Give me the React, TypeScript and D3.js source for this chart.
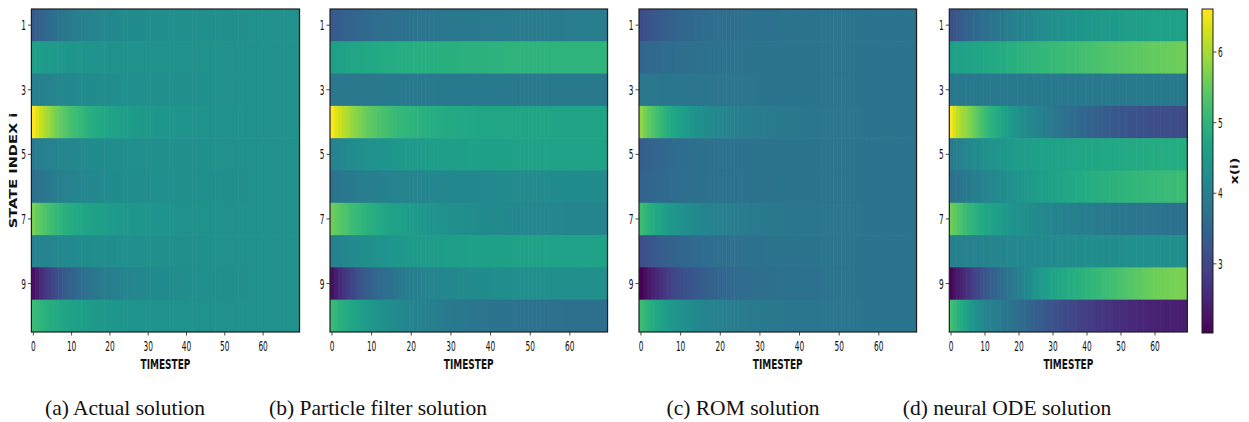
import React from "react";
import * as d3 from "d3";

// ---------------- data ----------------
const stateIndex = [1, 2, 3, 4, 5, 6, 7, 8, 9, 10];
const yTicks = [1, 3, 5, 7, 9];
const xTicks = [0, 10, 20, 30, 40, 50, 60];
const cbTicks = [3, 4, 5, 6];
const colorDomain = [2.02, 6.61];
const captions = [
  "(a) Actual solution",
  "(b) Particle filter solution",
  "(c) ROM solution",
  "(d) neural ODE solution",
];

// x(i) for state index 1..10 (rows), timestep 0..69 (columns)
const actual = [
  [3.30,3.39,3.47,3.54,3.61,3.67,3.73,3.78,3.83,3.87,3.91,3.94,3.97,4.00,4.03,4.05,4.09,4.11,4.13,4.14,4.16,4.17,4.18,4.20,4.21,4.22,4.23,4.23,4.24,4.25,4.25,4.26,4.27,4.27,4.27,4.28,4.28,4.29,4.29,4.29,4.29,4.30,4.30,4.30,4.30,4.30,4.31,4.31,4.31,4.31,4.31,4.31,4.31,4.31,4.31,4.31,4.32,4.32,4.32,4.32,4.32,4.32,4.32,4.32,4.32,4.32,4.32,4.32,4.32,4.32],
  [4.60,4.57,4.55,4.53,4.52,4.50,4.48,4.47,4.45,4.44,4.43,4.42,4.42,4.41,4.40,4.39,4.38,4.38,4.37,4.37,4.36,4.36,4.36,4.35,4.35,4.35,4.35,4.35,4.34,4.34,4.34,4.34,4.33,4.33,4.33,4.33,4.33,4.33,4.33,4.33,4.33,4.32,4.32,4.32,4.32,4.32,4.32,4.32,4.32,4.32,4.32,4.32,4.32,4.32,4.32,4.32,4.32,4.32,4.32,4.32,4.32,4.32,4.32,4.32,4.32,4.32,4.32,4.32,4.32,4.32],
  [3.95,3.98,4.01,4.04,4.06,4.08,4.11,4.12,4.14,4.16,4.17,4.18,4.19,4.21,4.22,4.22,4.23,4.24,4.25,4.25,4.26,4.26,4.27,4.28,4.28,4.28,4.29,4.29,4.29,4.29,4.29,4.30,4.30,4.30,4.30,4.31,4.31,4.31,4.31,4.31,4.31,4.31,4.31,4.31,4.31,4.31,4.32,4.32,4.32,4.32,4.32,4.32,4.32,4.32,4.32,4.32,4.32,4.32,4.32,4.32,4.32,4.32,4.32,4.32,4.32,4.32,4.32,4.32,4.32,4.32],
  [6.60,6.39,6.21,6.05,5.92,5.78,5.64,5.53,5.41,5.32,5.23,5.16,5.10,5.03,4.96,4.91,4.84,4.80,4.75,4.73,4.68,4.66,4.64,4.59,4.57,4.55,4.53,4.53,4.50,4.48,4.48,4.46,4.43,4.43,4.43,4.41,4.41,4.39,4.39,4.39,4.39,4.37,4.37,4.37,4.37,4.37,4.34,4.34,4.34,4.34,4.34,4.34,4.34,4.34,4.34,4.34,4.32,4.32,4.32,4.32,4.32,4.32,4.32,4.32,4.32,4.32,4.32,4.32,4.32,4.32],
  [3.90,3.94,3.97,4.00,4.03,4.05,4.08,4.10,4.12,4.14,4.15,4.16,4.18,4.19,4.20,4.21,4.22,4.23,4.24,4.24,4.25,4.26,4.26,4.27,4.27,4.28,4.28,4.28,4.29,4.29,4.29,4.29,4.30,4.30,4.30,4.30,4.30,4.31,4.31,4.31,4.31,4.31,4.31,4.31,4.31,4.31,4.32,4.32,4.32,4.32,4.32,4.32,4.32,4.32,4.32,4.32,4.32,4.32,4.32,4.32,4.32,4.32,4.32,4.32,4.32,4.32,4.32,4.32,4.32,4.32],
  [3.67,3.73,3.78,3.83,3.86,3.90,3.94,3.98,4.01,4.03,4.06,4.08,4.10,4.12,4.14,4.15,4.17,4.18,4.20,4.20,4.22,4.22,4.23,4.24,4.25,4.25,4.26,4.26,4.27,4.27,4.27,4.28,4.29,4.29,4.29,4.29,4.29,4.30,4.30,4.30,4.30,4.31,4.31,4.31,4.31,4.31,4.31,4.31,4.31,4.31,4.31,4.31,4.31,4.31,4.31,4.31,4.32,4.32,4.32,4.32,4.32,4.32,4.32,4.32,4.32,4.32,4.32,4.32,4.32,4.32],
  [5.65,5.53,5.42,5.33,5.25,5.17,5.09,5.02,4.96,4.91,4.85,4.81,4.77,4.73,4.69,4.67,4.63,4.60,4.57,4.56,4.53,4.52,4.51,4.48,4.47,4.45,4.44,4.44,4.43,4.41,4.41,4.40,4.39,4.39,4.39,4.37,4.37,4.36,4.36,4.36,4.36,4.35,4.35,4.35,4.35,4.35,4.33,4.33,4.33,4.33,4.33,4.33,4.33,4.33,4.33,4.33,4.32,4.32,4.32,4.32,4.32,4.32,4.32,4.32,4.32,4.32,4.32,4.32,4.32,4.32],
  [4.02,4.05,4.07,4.09,4.11,4.13,4.15,4.16,4.18,4.19,4.20,4.21,4.22,4.23,4.24,4.24,4.25,4.26,4.26,4.27,4.27,4.27,4.28,4.28,4.29,4.29,4.29,4.29,4.30,4.30,4.30,4.30,4.30,4.30,4.30,4.31,4.31,4.31,4.31,4.31,4.31,4.31,4.31,4.31,4.31,4.31,4.32,4.32,4.32,4.32,4.32,4.32,4.32,4.32,4.32,4.32,4.32,4.32,4.32,4.32,4.32,4.32,4.32,4.32,4.32,4.32,4.32,4.32,4.32,4.32],
  [2.20,2.39,2.56,2.71,2.84,2.96,3.09,3.20,3.30,3.39,3.47,3.54,3.60,3.66,3.73,3.77,3.83,3.87,3.92,3.94,3.98,4.00,4.02,4.07,4.09,4.11,4.13,4.13,4.15,4.17,4.17,4.19,4.21,4.21,4.21,4.24,4.24,4.26,4.26,4.26,4.26,4.28,4.28,4.28,4.28,4.28,4.30,4.30,4.30,4.30,4.30,4.30,4.30,4.30,4.30,4.30,4.32,4.32,4.32,4.32,4.32,4.32,4.32,4.32,4.32,4.32,4.32,4.32,4.32,4.32],
  [5.15,5.08,5.01,4.95,4.90,4.85,4.80,4.76,4.72,4.69,4.65,4.63,4.60,4.58,4.55,4.54,4.51,4.49,4.48,4.47,4.45,4.44,4.44,4.42,4.41,4.40,4.39,4.39,4.39,4.38,4.38,4.37,4.36,4.36,4.36,4.35,4.35,4.34,4.34,4.34,4.34,4.34,4.34,4.34,4.34,4.34,4.33,4.33,4.33,4.33,4.33,4.33,4.33,4.33,4.33,4.33,4.32,4.32,4.32,4.32,4.32,4.32,4.32,4.32,4.32,4.32,4.32,4.32,4.32,4.32],
];

const particleFilter = [
  [3.30,3.34,3.38,3.41,3.44,3.48,3.50,3.53,3.55,3.58,3.60,3.62,3.64,3.66,3.68,3.70,3.71,3.72,3.74,3.75,3.76,3.77,3.79,3.79,3.81,3.81,3.82,3.83,3.84,3.85,3.85,3.86,3.86,3.87,3.87,3.88,3.88,3.88,3.89,3.89,3.90,3.90,3.90,3.90,3.91,3.91,3.91,3.92,3.92,3.92,3.92,3.92,3.92,3.92,3.93,3.93,3.93,3.93,3.93,3.94,3.94,3.94,3.94,3.94,3.94,3.94,3.94,3.94,3.94,3.94],
  [4.60,4.62,4.65,4.67,4.69,4.71,4.72,4.74,4.76,4.77,4.78,4.80,4.81,4.82,4.83,4.84,4.85,4.86,4.87,4.88,4.88,4.89,4.90,4.90,4.91,4.92,4.92,4.93,4.93,4.94,4.94,4.94,4.94,4.95,4.95,4.96,4.96,4.96,4.96,4.96,4.97,4.97,4.97,4.97,4.98,4.98,4.98,4.98,4.98,4.98,4.98,4.98,4.98,4.98,4.99,4.99,4.99,4.99,4.99,4.99,4.99,4.99,4.99,4.99,4.99,4.99,4.99,4.99,5.00,5.00],
  [3.84,3.84,3.85,3.85,3.85,3.85,3.86,3.86,3.86,3.86,3.86,3.86,3.86,3.87,3.87,3.87,3.87,3.87,3.87,3.87,3.87,3.87,3.87,3.87,3.87,3.87,3.87,3.87,3.87,3.87,3.87,3.87,3.87,3.87,3.87,3.87,3.87,3.87,3.87,3.87,3.87,3.87,3.87,3.87,3.87,3.87,3.87,3.87,3.87,3.87,3.87,3.87,3.87,3.87,3.87,3.87,3.87,3.87,3.87,3.87,3.87,3.87,3.87,3.87,3.87,3.87,3.87,3.87,3.87,3.87],
  [6.60,6.43,6.27,6.14,6.02,5.91,5.79,5.70,5.60,5.52,5.45,5.39,5.33,5.28,5.22,5.18,5.12,5.08,5.04,5.03,4.99,4.97,4.95,4.91,4.89,4.87,4.85,4.85,4.83,4.81,4.81,4.80,4.78,4.78,4.78,4.76,4.76,4.74,4.74,4.74,4.74,4.72,4.72,4.72,4.72,4.72,4.70,4.70,4.70,4.70,4.70,4.70,4.70,4.70,4.70,4.70,4.68,4.68,4.68,4.68,4.68,4.68,4.68,4.68,4.68,4.68,4.68,4.68,4.68,4.68],
  [4.05,4.09,4.13,4.16,4.19,4.22,4.25,4.27,4.30,4.32,4.34,4.36,4.38,4.40,4.42,4.43,4.45,4.46,4.48,4.49,4.50,4.51,4.52,4.53,4.54,4.55,4.55,4.57,4.57,4.58,4.59,4.59,4.59,4.60,4.60,4.61,4.61,4.62,4.62,4.62,4.63,4.63,4.64,4.64,4.64,4.64,4.64,4.65,4.65,4.65,4.65,4.65,4.65,4.65,4.66,4.66,4.66,4.66,4.66,4.67,4.67,4.67,4.67,4.67,4.67,4.67,4.67,4.67,4.67,4.67],
  [3.77,3.80,3.82,3.85,3.87,3.89,3.91,3.93,3.95,3.96,3.98,3.99,4.01,4.02,4.03,4.04,4.05,4.06,4.08,4.08,4.09,4.10,4.11,4.11,4.12,4.13,4.13,4.14,4.14,4.15,4.15,4.16,4.16,4.16,4.17,4.17,4.17,4.17,4.18,4.18,4.18,4.18,4.19,4.19,4.19,4.19,4.19,4.20,4.20,4.20,4.20,4.20,4.20,4.20,4.21,4.21,4.21,4.21,4.21,4.21,4.21,4.21,4.21,4.21,4.21,4.21,4.21,4.21,4.22,4.22],
  [5.60,5.51,5.42,5.34,5.27,5.19,5.13,5.07,5.01,4.95,4.90,4.84,4.79,4.75,4.72,4.67,4.64,4.61,4.57,4.54,4.52,4.49,4.46,4.44,4.41,4.40,4.38,4.35,4.34,4.32,4.31,4.29,4.29,4.28,4.26,4.25,4.25,4.23,4.22,4.22,4.20,4.20,4.19,4.19,4.17,4.17,4.17,4.16,4.16,4.16,4.14,4.14,4.14,4.14,4.13,4.13,4.13,4.13,4.13,4.11,4.11,4.11,4.11,4.11,4.11,4.11,4.11,4.11,4.10,4.10],
  [4.00,4.04,4.08,4.12,4.15,4.18,4.21,4.24,4.27,4.29,4.31,4.34,4.36,4.38,4.39,4.41,4.43,4.44,4.46,4.48,4.48,4.50,4.51,4.52,4.53,4.54,4.54,4.56,4.56,4.57,4.58,4.58,4.58,4.59,4.60,4.61,4.61,4.61,4.62,4.62,4.63,4.63,4.63,4.63,4.64,4.64,4.64,4.65,4.65,4.65,4.65,4.65,4.65,4.65,4.66,4.66,4.66,4.66,4.66,4.67,4.67,4.67,4.67,4.67,4.67,4.67,4.67,4.67,4.67,4.67],
  [2.20,2.39,2.56,2.70,2.83,2.96,3.08,3.19,3.29,3.38,3.46,3.52,3.59,3.65,3.71,3.75,3.82,3.86,3.90,3.92,3.96,3.98,4.01,4.05,4.07,4.09,4.11,4.11,4.13,4.15,4.15,4.17,4.19,4.19,4.19,4.22,4.22,4.24,4.24,4.24,4.24,4.26,4.26,4.26,4.26,4.26,4.28,4.28,4.28,4.28,4.28,4.28,4.28,4.28,4.28,4.28,4.30,4.30,4.30,4.30,4.30,4.30,4.30,4.30,4.30,4.30,4.30,4.30,4.30,4.30],
  [5.13,5.04,4.95,4.88,4.81,4.74,4.68,4.62,4.56,4.50,4.46,4.40,4.36,4.31,4.28,4.24,4.21,4.18,4.14,4.11,4.09,4.06,4.04,4.02,3.99,3.98,3.96,3.93,3.92,3.90,3.89,3.87,3.87,3.86,3.85,3.83,3.83,3.82,3.80,3.80,3.79,3.79,3.77,3.77,3.76,3.76,3.76,3.74,3.74,3.74,3.73,3.73,3.73,3.73,3.71,3.71,3.71,3.71,3.71,3.70,3.70,3.70,3.70,3.70,3.70,3.70,3.70,3.70,3.68,3.68],
];

const rom = [
  [3.08,3.14,3.20,3.25,3.29,3.34,3.38,3.41,3.45,3.48,3.51,3.53,3.55,3.57,3.59,3.61,3.63,3.64,3.66,3.66,3.68,3.68,3.69,3.70,3.71,3.72,3.73,3.73,3.73,3.74,3.74,3.75,3.75,3.75,3.75,3.76,3.76,3.77,3.77,3.77,3.77,3.78,3.78,3.78,3.78,3.78,3.78,3.78,3.78,3.78,3.78,3.78,3.78,3.78,3.78,3.78,3.79,3.79,3.79,3.79,3.79,3.79,3.79,3.79,3.79,3.79,3.79,3.79,3.79,3.79],
  [3.50,3.53,3.55,3.57,3.59,3.60,3.62,3.64,3.65,3.66,3.67,3.68,3.69,3.70,3.71,3.71,3.72,3.73,3.73,3.74,3.74,3.75,3.75,3.76,3.76,3.76,3.76,3.76,3.77,3.77,3.77,3.77,3.78,3.78,3.78,3.78,3.78,3.78,3.78,3.78,3.78,3.79,3.79,3.79,3.79,3.79,3.79,3.79,3.79,3.79,3.79,3.79,3.79,3.79,3.79,3.79,3.79,3.79,3.79,3.79,3.79,3.79,3.79,3.79,3.79,3.79,3.79,3.79,3.79,3.79],
  [3.86,3.85,3.85,3.84,3.84,3.83,3.83,3.83,3.82,3.82,3.82,3.82,3.81,3.81,3.81,3.81,3.81,3.80,3.80,3.80,3.80,3.80,3.80,3.80,3.80,3.80,3.80,3.80,3.80,3.80,3.79,3.79,3.79,3.79,3.79,3.79,3.79,3.79,3.79,3.79,3.79,3.79,3.79,3.79,3.79,3.79,3.79,3.79,3.79,3.79,3.79,3.79,3.79,3.79,3.79,3.79,3.79,3.79,3.79,3.79,3.79,3.79,3.79,3.79,3.79,3.79,3.79,3.79,3.79,3.79],
  [5.83,5.65,5.48,5.34,5.22,5.10,4.97,4.87,4.77,4.69,4.61,4.54,4.48,4.42,4.36,4.32,4.26,4.22,4.18,4.16,4.12,4.10,4.08,4.03,4.01,3.99,3.97,3.97,3.95,3.93,3.93,3.91,3.89,3.89,3.89,3.87,3.87,3.85,3.85,3.85,3.85,3.83,3.83,3.83,3.83,3.83,3.81,3.81,3.81,3.81,3.81,3.81,3.81,3.81,3.81,3.81,3.79,3.79,3.79,3.79,3.79,3.79,3.79,3.79,3.79,3.79,3.79,3.79,3.79,3.79],
  [3.40,3.44,3.47,3.49,3.52,3.54,3.56,3.58,3.60,3.62,3.63,3.65,3.66,3.67,3.68,3.69,3.70,3.71,3.72,3.72,3.73,3.73,3.74,3.74,3.75,3.75,3.75,3.75,3.76,3.76,3.76,3.77,3.77,3.77,3.77,3.77,3.77,3.78,3.78,3.78,3.78,3.78,3.78,3.78,3.78,3.78,3.79,3.79,3.79,3.79,3.79,3.79,3.79,3.79,3.79,3.79,3.79,3.79,3.79,3.79,3.79,3.79,3.79,3.79,3.79,3.79,3.79,3.79,3.79,3.79],
  [3.45,3.48,3.51,3.53,3.55,3.57,3.59,3.61,3.63,3.64,3.65,3.66,3.67,3.68,3.69,3.70,3.71,3.72,3.73,3.73,3.74,3.74,3.74,3.75,3.75,3.76,3.76,3.76,3.76,3.77,3.77,3.77,3.77,3.77,3.77,3.78,3.78,3.78,3.78,3.78,3.78,3.78,3.78,3.78,3.78,3.78,3.79,3.79,3.79,3.79,3.79,3.79,3.79,3.79,3.79,3.79,3.79,3.79,3.79,3.79,3.79,3.79,3.79,3.79,3.79,3.79,3.79,3.79,3.79,3.79],
  [5.18,5.05,4.94,4.85,4.76,4.68,4.60,4.53,4.46,4.40,4.35,4.30,4.26,4.22,4.18,4.15,4.11,4.08,4.05,4.04,4.01,4.00,3.98,3.96,3.94,3.93,3.92,3.92,3.90,3.89,3.89,3.87,3.86,3.86,3.86,3.85,3.85,3.83,3.83,3.83,3.83,3.82,3.82,3.82,3.82,3.82,3.80,3.80,3.80,3.80,3.80,3.80,3.80,3.80,3.80,3.80,3.79,3.79,3.79,3.79,3.79,3.79,3.79,3.79,3.79,3.79,3.79,3.79,3.79,3.79],
  [3.10,3.16,3.22,3.27,3.31,3.35,3.39,3.42,3.46,3.49,3.51,3.53,3.56,3.58,3.60,3.61,3.63,3.65,3.66,3.67,3.68,3.69,3.69,3.71,3.71,3.72,3.73,3.73,3.73,3.74,3.74,3.75,3.76,3.76,3.76,3.76,3.76,3.77,3.77,3.77,3.77,3.78,3.78,3.78,3.78,3.78,3.78,3.78,3.78,3.78,3.78,3.78,3.78,3.78,3.78,3.78,3.79,3.79,3.79,3.79,3.79,3.79,3.79,3.79,3.79,3.79,3.79,3.79,3.79,3.79],
  [2.02,2.18,2.32,2.44,2.55,2.66,2.76,2.85,2.94,3.01,3.08,3.14,3.19,3.24,3.29,3.33,3.38,3.42,3.45,3.47,3.51,3.52,3.54,3.58,3.60,3.61,3.63,3.63,3.65,3.67,3.67,3.68,3.70,3.70,3.70,3.72,3.72,3.74,3.74,3.74,3.74,3.75,3.75,3.75,3.75,3.75,3.77,3.77,3.77,3.77,3.77,3.77,3.77,3.77,3.77,3.77,3.79,3.79,3.79,3.79,3.79,3.79,3.79,3.79,3.79,3.79,3.79,3.79,3.79,3.79],
  [5.17,5.05,4.94,4.84,4.76,4.67,4.59,4.52,4.45,4.40,4.34,4.30,4.26,4.22,4.18,4.15,4.11,4.08,4.05,4.03,4.01,4.00,3.98,3.96,3.94,3.93,3.91,3.91,3.90,3.89,3.89,3.87,3.86,3.86,3.86,3.85,3.85,3.83,3.83,3.83,3.83,3.82,3.82,3.82,3.82,3.82,3.80,3.80,3.80,3.80,3.80,3.80,3.80,3.80,3.80,3.80,3.79,3.79,3.79,3.79,3.79,3.79,3.79,3.79,3.79,3.79,3.79,3.79,3.79,3.79],
];

const neuralOde = [
  [3.17,3.23,3.29,3.35,3.41,3.46,3.51,3.56,3.61,3.66,3.70,3.74,3.78,3.82,3.85,3.88,3.92,3.95,3.98,4.02,4.05,4.08,4.11,4.13,4.16,4.18,4.21,4.23,4.26,4.28,4.30,4.32,4.33,4.35,4.36,4.38,4.39,4.41,4.42,4.44,4.45,4.46,4.47,4.48,4.49,4.50,4.51,4.52,4.53,4.54,4.55,4.56,4.57,4.57,4.58,4.59,4.60,4.60,4.61,4.61,4.62,4.62,4.63,4.63,4.63,4.64,4.64,4.64,4.65,4.65],
  [4.60,4.61,4.63,4.64,4.66,4.67,4.69,4.70,4.72,4.73,4.75,4.77,4.79,4.81,4.83,4.85,4.87,4.89,4.91,4.93,4.95,4.97,4.98,5.00,5.01,5.03,5.04,5.06,5.07,5.09,5.10,5.12,5.13,5.15,5.16,5.18,5.19,5.21,5.22,5.24,5.25,5.27,5.28,5.30,5.31,5.33,5.34,5.36,5.37,5.39,5.40,5.41,5.42,5.44,5.45,5.46,5.47,5.48,5.50,5.51,5.52,5.53,5.54,5.55,5.56,5.57,5.58,5.59,5.59,5.60],
  [3.85,3.86,3.86,3.86,3.87,3.87,3.87,3.87,3.87,3.87,3.87,3.87,3.87,3.87,3.87,3.87,3.87,3.87,3.87,3.87,3.87,3.87,3.87,3.87,3.87,3.87,3.87,3.87,3.87,3.87,3.87,3.87,3.87,3.87,3.87,3.87,3.87,3.87,3.87,3.87,3.87,3.87,3.87,3.87,3.87,3.87,3.87,3.87,3.87,3.87,3.87,3.87,3.87,3.87,3.87,3.87,3.87,3.87,3.87,3.87,3.87,3.87,3.87,3.87,3.87,3.87,3.87,3.87,3.87,3.87],
  [6.60,6.35,6.15,6.00,5.90,5.80,5.66,5.53,5.40,5.27,5.15,5.05,4.96,4.87,4.78,4.70,4.62,4.54,4.46,4.39,4.32,4.27,4.22,4.17,4.12,4.08,4.03,3.99,3.94,3.90,3.86,3.82,3.78,3.74,3.71,3.67,3.63,3.60,3.56,3.53,3.50,3.47,3.44,3.42,3.39,3.37,3.34,3.32,3.29,3.27,3.25,3.23,3.22,3.20,3.19,3.18,3.16,3.15,3.14,3.13,3.12,3.11,3.10,3.10,3.09,3.08,3.07,3.06,3.06,3.05],
  [3.93,3.97,4.01,4.05,4.09,4.13,4.17,4.21,4.24,4.27,4.30,4.33,4.36,4.39,4.41,4.44,4.46,4.49,4.51,4.53,4.55,4.56,4.57,4.58,4.59,4.60,4.61,4.62,4.63,4.64,4.65,4.66,4.66,4.67,4.68,4.68,4.69,4.70,4.71,4.71,4.72,4.73,4.73,4.74,4.74,4.75,4.76,4.76,4.77,4.77,4.78,4.78,4.79,4.79,4.80,4.80,4.81,4.81,4.82,4.82,4.83,4.83,4.84,4.84,4.85,4.85,4.85,4.86,4.86,4.87],
  [3.72,3.75,3.78,3.82,3.85,3.88,3.92,3.95,3.98,4.02,4.05,4.09,4.12,4.16,4.19,4.23,4.26,4.30,4.33,4.37,4.40,4.43,4.45,4.48,4.50,4.53,4.55,4.58,4.60,4.63,4.65,4.67,4.69,4.71,4.73,4.75,4.77,4.79,4.81,4.83,4.85,4.87,4.88,4.90,4.91,4.93,4.94,4.96,4.97,4.99,5.00,5.01,5.02,5.03,5.04,5.05,5.06,5.07,5.08,5.09,5.10,5.11,5.12,5.13,5.14,5.14,5.15,5.16,5.17,5.18],
  [5.60,5.49,5.39,5.29,5.19,5.10,5.03,4.95,4.88,4.81,4.75,4.70,4.66,4.61,4.57,4.52,4.48,4.44,4.40,4.36,4.32,4.30,4.27,4.25,4.23,4.21,4.18,4.16,4.14,4.12,4.10,4.08,4.07,4.05,4.04,4.02,4.01,3.99,3.98,3.96,3.95,3.94,3.93,3.92,3.91,3.90,3.89,3.88,3.87,3.86,3.85,3.84,3.83,3.83,3.82,3.81,3.80,3.80,3.79,3.78,3.77,3.77,3.76,3.76,3.75,3.74,3.74,3.73,3.73,3.72],
  [4.00,4.01,4.02,4.02,4.03,4.04,4.05,4.05,4.06,4.07,4.08,4.08,4.09,4.10,4.11,4.11,4.12,4.13,4.14,4.14,4.15,4.16,4.16,4.17,4.17,4.18,4.18,4.19,4.19,4.20,4.20,4.21,4.21,4.22,4.22,4.23,4.23,4.24,4.24,4.25,4.25,4.25,4.25,4.26,4.26,4.26,4.26,4.27,4.27,4.27,4.27,4.27,4.28,4.28,4.28,4.28,4.28,4.29,4.29,4.29,4.29,4.29,4.29,4.29,4.30,4.30,4.30,4.30,4.30,4.30],
  [2.10,2.22,2.34,2.46,2.58,2.70,2.81,2.92,3.03,3.14,3.25,3.33,3.41,3.49,3.57,3.64,3.71,3.79,3.86,3.93,4.00,4.08,4.16,4.24,4.32,4.40,4.46,4.52,4.58,4.63,4.68,4.72,4.75,4.79,4.82,4.85,4.88,4.91,4.94,4.97,5.00,5.03,5.06,5.09,5.12,5.15,5.18,5.21,5.24,5.27,5.30,5.33,5.36,5.39,5.42,5.45,5.48,5.51,5.54,5.57,5.60,5.61,5.62,5.63,5.64,5.65,5.66,5.67,5.68,5.69],
  [5.23,5.10,4.97,4.84,4.72,4.60,4.50,4.39,4.29,4.19,4.10,4.05,4.01,3.96,3.92,3.87,3.83,3.78,3.74,3.69,3.65,3.60,3.55,3.50,3.46,3.41,3.36,3.31,3.26,3.22,3.17,3.14,3.10,3.07,3.04,3.01,2.98,2.94,2.91,2.88,2.85,2.82,2.80,2.77,2.75,2.72,2.70,2.67,2.65,2.62,2.60,2.58,2.57,2.55,2.54,2.52,2.51,2.49,2.48,2.46,2.45,2.44,2.44,2.43,2.43,2.42,2.42,2.41,2.41,2.40],
];

// ---------------- layout / style ----------------
const W = 1249;
const H = 422;
const TOP = 9;
const BOTTOM = 332;
const SQ_TICK = 0.55; // horizontal squeeze of the original rasterised panels
const SQ_LABEL = 0.62;
const FONT = "'DejaVu Sans', sans-serif";

const panelLayout = [
  { data: actual, x0: 31.4, x1: 299.5, capX: 125, yLabel: true },
  { data: particleFilter, x0: 330.0, x1: 607.5, capX: 378, yLabel: false },
  { data: rom, x0: 639.0, x1: 916.5, capX: 743, yLabel: false },
  { data: neuralOde, x0: 949.3, x1: 1187.3, capX: 1007, yLabel: false },
];

const color = d3.scaleSequential(d3.interpolateViridis).domain(colorDomain);

function SqText(props: {
  x: number;
  y: number;
  anchor?: string;
  size: number;
  sq: number;
  weight?: string | number;
  children: React.ReactNode;
}) {
  const { x, y, anchor = "middle", size, sq, weight = "normal", children } = props;
  return (
    <text
      transform={`translate(${x},${y}) scale(${sq},1)`}
      textAnchor={anchor}
      fontSize={size}
      fontWeight={weight}
      fontFamily={FONT}
      fill="#111"
    >
      {children}
    </text>
  );
}

function Panel({ data, x0, x1, yLabel }: { data: number[][]; x0: number; x1: number; yLabel: boolean }) {
  const nT = data[0].length;
  const x = d3.scaleLinear().domain([-0.5, nT - 0.5]).range([x0, x1]);
  const y = d3.scaleBand<number>().domain(stateIndex).range([TOP, BOTTOM]);
  const cw = x(1) - x(0);
  return (
    <g>
      {data.map((row, ri) =>
        row.map((v, t) => (
          <rect
            key={`${ri}-${t}`}
            x={x(t - 0.5)}
            y={y(stateIndex[ri])!}
            width={cw + 0.6}
            height={y.bandwidth() + (ri < data.length - 1 ? 0.6 : 0)}
            fill={color(v)}
          />
        ))
      )}
      <rect x={x0} y={TOP} width={x1 - x0} height={BOTTOM - TOP} fill="none" stroke="#1f1f1f" strokeWidth={1.2} />
      {xTicks.map((t) => (
        <g key={`xt${t}`}>
          <line x1={x(t)} x2={x(t)} y1={BOTTOM} y2={BOTTOM + 3.5} stroke="#333" strokeWidth={0.9} />
          <SqText x={x(t)} y={350.5} size={13.5} sq={SQ_TICK}>
            {t}
          </SqText>
        </g>
      ))}
      {yTicks.map((s) => {
        const yc = y(s)! + y.bandwidth() / 2;
        return (
          <g key={`yt${s}`}>
            <line x1={x0 - 3.5} x2={x0} y1={yc} y2={yc} stroke="#333" strokeWidth={0.9} />
            <SqText x={x0 - 5.5} y={yc + 5} anchor="end" size={13.5} sq={SQ_TICK}>
              {s}
            </SqText>
          </g>
        );
      })}
      <SqText x={(x0 + x1) / 2} y={368.5} size={14.5} sq={SQ_LABEL} weight="bold">
        TIMESTEP
      </SqText>
      {yLabel && (
        <text
          transform={`translate(16.5,${(TOP + BOTTOM) / 2}) rotate(-90) scale(1,0.72)`}
          textAnchor="middle"
          fontSize={14.6}
          fontWeight="bold"
          fontFamily={FONT}
          fill="#111"
        >
          STATE INDEX i
        </text>
      )}
    </g>
  );
}

function Colorbar() {
  const cx0 = 1202;
  const cx1 = 1213;
  const cy = d3.scaleLinear().domain(colorDomain).range([333, TOP]);
  const stops = d3.range(0, 1.0001, 0.02);
  return (
    <g>
      <defs>
        <linearGradient id="cbgrad" x1="0" y1="1" x2="0" y2="0">
          {stops.map((s) => (
            <stop key={s} offset={s} stopColor={d3.interpolateViridis(s)} />
          ))}
        </linearGradient>
      </defs>
      <rect x={cx0} y={TOP} width={cx1 - cx0} height={333 - TOP} fill="url(#cbgrad)" stroke="#1f1f1f" strokeWidth={1} />
      {cbTicks.map((v) => (
        <g key={`cb${v}`}>
          <line x1={cx1} x2={cx1 + 3.5} y1={cy(v)} y2={cy(v)} stroke="#333" strokeWidth={0.9} />
          <SqText x={cx1 + 5} y={cy(v) + 5} anchor="start" size={13.5} sq={SQ_TICK}>
            {v}
          </SqText>
        </g>
      ))}
      <text
        transform={`translate(1238,${(TOP + 333) / 2}) rotate(-90) scale(1,0.7)`}
        textAnchor="middle"
        fontSize={14}
        fontWeight="bold"
        fontFamily={FONT}
        fill="#111"
      >
        x(i)
      </text>
    </g>
  );
}

export default function App() {
  return (
    <svg
      width={W}
      height={H}
      viewBox={`0 0 ${W} ${H}`}
      style={{ position: "absolute", left: 0, top: 0, background: "#fff", display: "block" }}
    >
      <rect x={0} y={0} width={W} height={H} fill="#fff" />
      {panelLayout.map((p, i) => (
        <Panel key={i} data={p.data} x0={p.x0} x1={p.x1} yLabel={p.yLabel} />
      ))}
      <Colorbar />
      {panelLayout.map((p, i) => (
        <text
          key={`cap${i}`}
          x={p.capX}
          y={415}
          textAnchor="middle"
          fontSize={21.5}
          fontFamily="'Liberation Serif', 'DejaVu Serif', serif"
          fill="#111"
        >
          {captions[i]}
        </text>
      ))}
    </svg>
  );
}
